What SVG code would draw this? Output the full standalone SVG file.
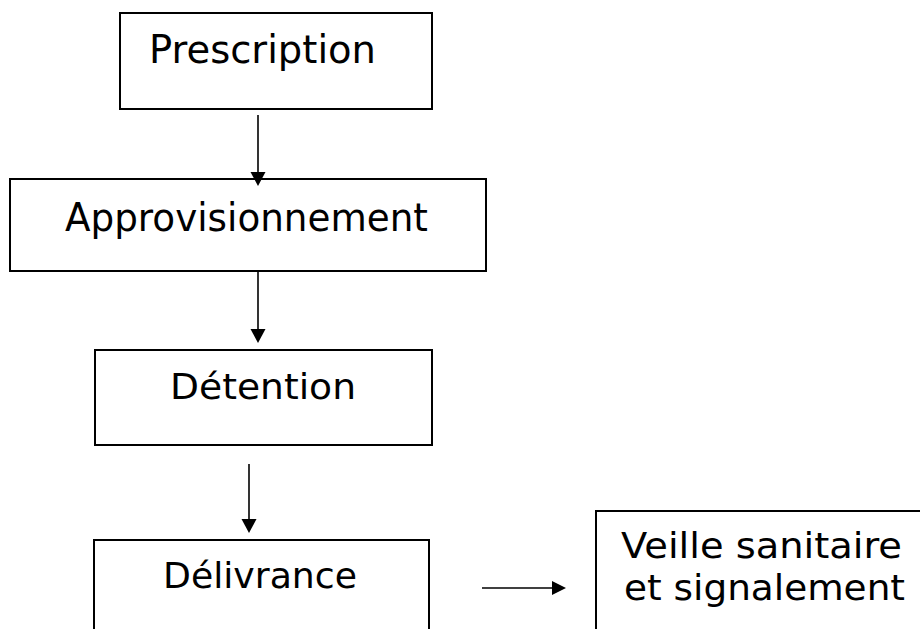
<svg xmlns="http://www.w3.org/2000/svg" width="920" height="629" viewBox="0 0 920 629">
  <defs>
    <style>
      .box { fill: #ffffff; stroke: #000000; stroke-width: 2; }
      .lbl { font-family: "DejaVu Sans", "Liberation Sans", sans-serif; fill: #000000; }
      .big { font-size: 39px; }
      .small { font-size: 36px; }
      .conn { stroke: #000000; stroke-width: 1.6; fill: none; }
    </style>
  </defs>
  <rect width="920" height="629" fill="#ffffff"/>

  <g id="node-prescription">
    <rect class="box" x="120" y="13" width="312" height="96"/>
    <text class="lbl big" x="149" y="63" textLength="227" lengthAdjust="spacingAndGlyphs">Prescription</text>
  </g>

  <g id="node-approvisionnement">
    <rect class="box" x="10" y="179" width="476" height="92"/>
    <text class="lbl big" x="65" y="231" textLength="363" lengthAdjust="spacingAndGlyphs">Approvisionnement</text>
  </g>

  <g id="node-detention">
    <rect class="box" x="95" y="350" width="337" height="95"/>
    <text class="lbl small" x="170" y="399" textLength="186" lengthAdjust="spacingAndGlyphs">Détention</text>
  </g>

  <g id="node-delivrance">
    <rect class="box" x="94" y="540" width="335" height="110"/>
    <text class="lbl small" x="163" y="588" textLength="194" lengthAdjust="spacingAndGlyphs">Délivrance</text>
  </g>

  <g id="node-veille">
    <rect class="box" x="596" y="511" width="340" height="140"/>
    <text class="lbl small" x="621" y="558" textLength="281" lengthAdjust="spacingAndGlyphs">Veille sanitaire</text>
    <text class="lbl small" x="624" y="600" textLength="281" lengthAdjust="spacingAndGlyphs">et signalement</text>
  </g>

  <g id="connectors">
    <g fill="#000000">
      <line class="conn" x1="258" y1="115" x2="258" y2="174"/>
      <path d="M250.5,172 L265.5,172 L258,186 Z"/>
      <line class="conn" x1="258" y1="271" x2="258" y2="331"/>
      <path d="M250.5,329 L265.5,329 L258,343 Z"/>
      <line class="conn" x1="249" y1="464" x2="249" y2="521"/>
      <path d="M241.5,519 L256.5,519 L249,533 Z"/>
      <line class="conn" x1="482" y1="588" x2="554" y2="588"/>
      <path d="M552,581 L552,595 L566,588 Z"/>
    </g>
  </g>
</svg>
